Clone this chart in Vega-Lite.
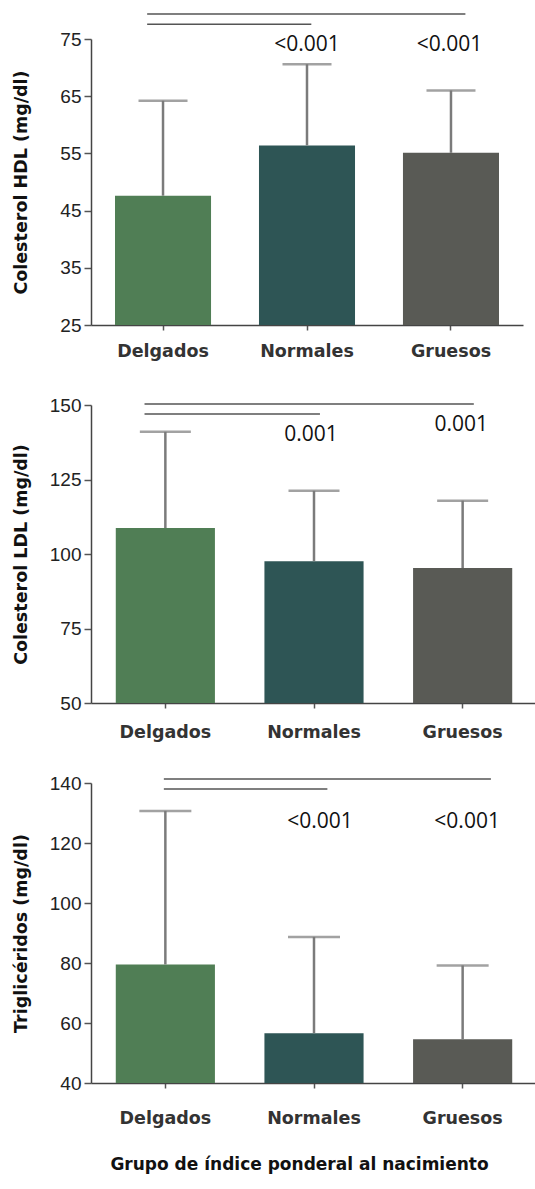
{
  "$schema": "https://vega.github.io/schema/vega-lite/v6.json",
  "background": "white",
  "padding": {"left": 11, "top": 13, "right": 0, "bottom": 5},
  "spacing": 80,
  "bounds": "flush",
  "datasets": {
    "hdl": [
      {"grupo": "Delgados", "media": 47.6, "sup": 64.2},
      {"grupo": "Normales", "media": 56.4, "sup": 70.6},
      {"grupo": "Gruesos", "media": 55.1, "sup": 66.0}
    ],
    "hdl_sig": [
      {"desde": 0.39, "hasta": 2.6, "nivel": 79.36},
      {"desde": 0.39, "hasta": 1.53, "nivel": 77.6}
    ],
    "hdl_p": [
      {"pos": 1.5, "nivel": 73.9, "p": "<0.001"},
      {"pos": 2.49, "nivel": 73.9, "p": "<0.001"}
    ],
    "ldl": [
      {"grupo": "Delgados", "media": 108.7, "sup": 141.0},
      {"grupo": "Normales", "media": 97.6, "sup": 121.2},
      {"grupo": "Gruesos", "media": 95.3, "sup": 117.9}
    ],
    "ldl_sig": [
      {"desde": 0.36, "hasta": 2.575, "nivel": 150.3},
      {"desde": 0.36, "hasta": 1.54, "nivel": 147.0}
    ],
    "ldl_p": [
      {"pos": 1.48, "nivel": 139.9, "p": "0.001"},
      {"pos": 2.49, "nivel": 143.3, "p": "0.001"}
    ],
    "tg": [
      {"grupo": "Delgados", "media": 79.5, "sup": 130.7},
      {"grupo": "Normales", "media": 56.6, "sup": 88.7},
      {"grupo": "Gruesos", "media": 54.6, "sup": 79.2}
    ],
    "tg_sig": [
      {"desde": 0.49, "hasta": 2.69, "nivel": 141.3},
      {"desde": 0.49, "hasta": 1.59, "nivel": 138.0}
    ],
    "tg_p": [
      {"pos": 1.54, "nivel": 127, "p": "<0.001"},
      {"pos": 2.53, "nivel": 127, "p": "<0.001"}
    ]
  },
  "vconcat": [
    {
      "width": 432,
      "height": 286,
      "resolve": {"scale": {"x": "independent"}},
      "layer": [
        {
          "data": {"name": "hdl"},
          "encoding": {
            "x": {"field": "grupo", "type": "nominal", "sort": ["Delgados", "Normales", "Gruesos"],
                  "scale": {"paddingInner": 0.333, "paddingOuter": 0.1667},
                  "axis": {"title": null, "labelAngle": 0, "labelPadding": 12}},
            "y": {"field": "media", "type": "quantitative",
                  "scale": {"domain": [25, 75], "nice": false, "zero": false},
                  "axis": {"title": "Colesterol HDL  (mg/dl)", "values": [25, 35, 45, 55, 65, 75], "titleX": -61, "titleY": 143}}
          },
          "layer": [
            {"mark": {"type": "bar"},
             "encoding": {"y2": {"datum": 25},
                          "color": {"field": "grupo", "type": "nominal", "legend": null,
                          "scale": {"domain": ["Delgados", "Normales", "Gruesos"], "range": ["#507e55", "#2e5555", "#595a55"]}}}},
            {"mark": {"type": "rule", "color": "#7b7b7b", "strokeWidth": 2.5},
             "encoding": {"y2": {"field": "sup"}}},
            {"mark": {"type": "tick", "color": "#7b7b7b", "thickness": 2.5, "size": 49},
             "encoding": {"y": {"field": "sup", "type": "quantitative"}}}
          ]
        },
        {
          "layer": [
            {"data": {"name": "hdl_sig"},
             "mark": {"type": "rule", "color": "#555555", "strokeWidth": 1.5},
             "encoding": {
               "x": {"field": "desde", "type": "quantitative", "scale": {"domain": [0, 3], "nice": false}, "axis": null},
               "x2": {"field": "hasta"},
               "y": {"field": "nivel", "type": "quantitative"}
             }},
            {"data": {"name": "hdl_p"},
             "mark": {"type": "text", "font": "Open Sans", "fontSize": 21, "color": "#111111", "baseline": "middle"},
             "encoding": {
               "x": {"field": "pos", "type": "quantitative", "scale": {"domain": [0, 3], "nice": false}, "axis": null},
               "y": {"field": "nivel", "type": "quantitative"},
               "text": {"field": "p"}
             }}
          ]
        }
      ]
    },
    {
      "width": 446,
      "height": 298,
      "resolve": {"scale": {"x": "independent"}},
      "layer": [
        {
          "data": {"name": "ldl"},
          "encoding": {
            "x": {"field": "grupo", "type": "nominal", "sort": ["Delgados", "Normales", "Gruesos"],
                  "scale": {"paddingInner": 0.333, "paddingOuter": 0.1667},
                  "axis": {"title": null, "labelAngle": 0, "labelPadding": 15}},
            "y": {"field": "media", "type": "quantitative",
                  "scale": {"domain": [50, 150], "nice": false, "zero": false},
                  "axis": {"title": "Colesterol LDL  (mg/dl)", "values": [50, 75, 100, 125, 150], "titleX": -61, "titleY": 149}}
          },
          "layer": [
            {"mark": {"type": "bar"},
             "encoding": {"y2": {"datum": 50},
                          "color": {"field": "grupo", "type": "nominal", "legend": null,
                          "scale": {"domain": ["Delgados", "Normales", "Gruesos"], "range": ["#507e55", "#2e5555", "#595a55"]}}}},
            {"mark": {"type": "rule", "color": "#7b7b7b", "strokeWidth": 2.5},
             "encoding": {"y2": {"field": "sup"}}},
            {"mark": {"type": "tick", "color": "#7b7b7b", "thickness": 2.5, "size": 51},
             "encoding": {"y": {"field": "sup", "type": "quantitative"}}}
          ]
        },
        {
          "layer": [
            {"data": {"name": "ldl_sig"},
             "mark": {"type": "rule", "color": "#555555", "strokeWidth": 1.5},
             "encoding": {
               "x": {"field": "desde", "type": "quantitative", "scale": {"domain": [0, 3], "nice": false}, "axis": null},
               "x2": {"field": "hasta"},
               "y": {"field": "nivel", "type": "quantitative"}
             }},
            {"data": {"name": "ldl_p"},
             "mark": {"type": "text", "font": "Open Sans", "fontSize": 21, "color": "#111111", "baseline": "middle"},
             "encoding": {
               "x": {"field": "pos", "type": "quantitative", "scale": {"domain": [0, 3], "nice": false}, "axis": null},
               "y": {"field": "nivel", "type": "quantitative"},
               "text": {"field": "p"}
             }}
          ]
        }
      ]
    },
    {
      "width": 446,
      "height": 300,
      "resolve": {"scale": {"x": "independent"}},
      "layer": [
        {
          "data": {"name": "tg"},
          "encoding": {
            "x": {"field": "grupo", "type": "nominal", "sort": ["Delgados", "Normales", "Gruesos"],
                  "scale": {"paddingInner": 0.333, "paddingOuter": 0.1667},
                  "axis": {"title": "Grupo de índice ponderal al nacimiento", "labelAngle": 0, "labelPadding": 21,
                           "titleX": 208, "titleY": 73, "titleBaseline": "top", "titleAlign": "center", "titleFontSize": 17}},
            "y": {"field": "media", "type": "quantitative",
                  "scale": {"domain": [40, 140], "nice": false, "zero": false},
                  "axis": {"title": "Triglicéridos  (mg/dl)", "values": [40, 60, 80, 100, 120, 140], "titleX": -61, "titleY": 150}}
          },
          "layer": [
            {"mark": {"type": "bar"},
             "encoding": {"y2": {"datum": 40},
                          "color": {"field": "grupo", "type": "nominal", "legend": null,
                          "scale": {"domain": ["Delgados", "Normales", "Gruesos"], "range": ["#507e55", "#2e5555", "#595a55"]}}}},
            {"mark": {"type": "rule", "color": "#7b7b7b", "strokeWidth": 2.5},
             "encoding": {"y2": {"field": "sup"}}},
            {"mark": {"type": "tick", "color": "#7b7b7b", "thickness": 2.5, "size": 52},
             "encoding": {"y": {"field": "sup", "type": "quantitative"}}}
          ]
        },
        {
          "layer": [
            {"data": {"name": "tg_sig"},
             "mark": {"type": "rule", "color": "#555555", "strokeWidth": 1.5},
             "encoding": {
               "x": {"field": "desde", "type": "quantitative", "scale": {"domain": [0, 3], "nice": false}, "axis": null},
               "x2": {"field": "hasta"},
               "y": {"field": "nivel", "type": "quantitative"}
             }},
            {"data": {"name": "tg_p"},
             "mark": {"type": "text", "font": "Open Sans", "fontSize": 21, "color": "#111111", "baseline": "middle"},
             "encoding": {
               "x": {"field": "pos", "type": "quantitative", "scale": {"domain": [0, 3], "nice": false}, "axis": null},
               "y": {"field": "nivel", "type": "quantitative"},
               "text": {"field": "p"}
             }}
          ]
        }
      ]
    }
  ],
  "config": {
    "view": {"stroke": null},
    "axis": {
      "grid": false,
      "domainColor": "#444444",
      "domainWidth": 1.5,
      "tickColor": "#555555",
      "tickWidth": 1.5,
      "labelColor": "#222222",
      "titleColor": "#111111",
      "titleFont": "DejaVu Sans",
      "titleFontWeight": "bold",
      "titleFontSize": 17.5
    },
    "axisY": {
      "labelFont": "Liberation Sans",
      "labelFontSize": 19,
      "tickSize": 7,
      "labelPadding": 3
    },
    "axisX": {
      "labelFont": "DejaVu Sans",
      "labelFontWeight": "bold",
      "labelFontSize": 17.5,
      "labelColor": "#333333",
      "tickSize": 5
    }
  }
}
